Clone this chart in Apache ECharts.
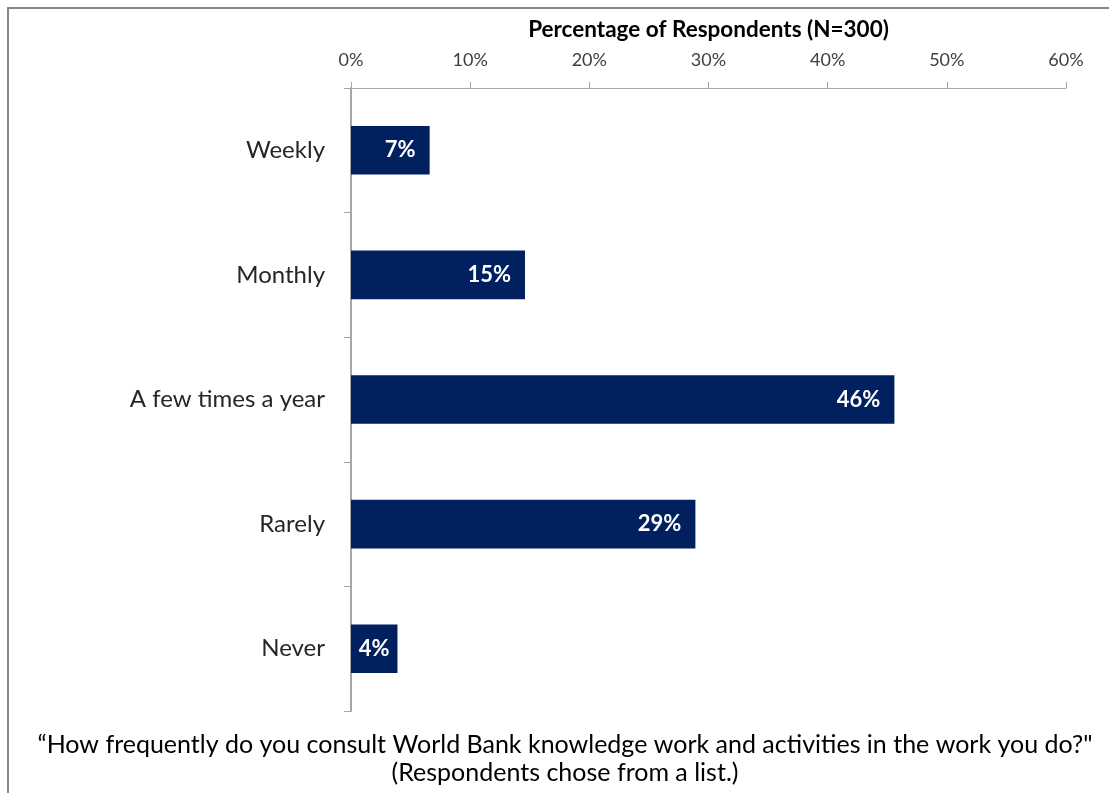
<!DOCTYPE html>
<html>
<head>
<meta charset="utf-8">
<script src="https://cdn.jsdelivr.net/npm/echarts@6/dist/echarts.min.js"></script>
<style>
html,body{margin:0;padding:0;background:#fff;}
#chart{width:1109px;height:793px;}
</style>
</head>
<body>
<div id="chart"></div>
<script>
const categories = ["Weekly", "Monthly", "A few times a year", "Rarely", "Never"];
const values = [6.6, 14.6, 45.6, 28.9, 3.9];
const axisTitle = "Percentage of Respondents (N=300)";
const footnoteLines = ["\u201cHow frequently do you consult World Bank knowledge work and activities in the work you do?\"", "(Respondents chose from a list.)"];

const FONT = "Lato";
const barData = values.map(v => v < 5 ? {value: v, label: {position: 'inside'}} : v);
const chart = echarts.init(document.getElementById('chart'), null, {renderer: 'canvas'});
chart.setOption({
  animation: false,
  backgroundColor: '#ffffff',
  grid: {left: 351, right: 43, top: 88, bottom: 82, containLabel: false},
  xAxis: {
    type: 'value', position: 'top', min: 0, max: 60, interval: 10,
    name: axisTitle, nameLocation: 'middle', nameGap: 47,
    nameTextStyle: {fontFamily: FONT, fontWeight: 'bold', fontSize: 22.5, color: '#000'},
    axisLine: {show: true, lineStyle: {color: '#a6a6a6', width: 1}},
    axisTick: {show: true, inside: false, length: 6, lineStyle: {color: '#a6a6a6'}},
    splitLine: {show: false},
    axisLabel: {formatter: v => v + '%', fontFamily: FONT, fontSize: 18, color: '#404040', margin: 19}
  },
  yAxis: {
    type: 'category', data: categories, inverse: true,
    axisLine: {show: true, lineStyle: {color: '#a6a6a6', width: 2}},
    axisTick: {show: true, inside: false, length: 7, lineStyle: {color: '#a6a6a6'}},
    axisLabel: {fontFamily: FONT, fontSize: 24, color: '#262626', margin: 26},
    splitLine: {show: false}
  },
  series: [{
    type: 'bar', data: barData, barCategoryGap: '61%',
    itemStyle: {color: '#002060'},
    label: {show: true, position: 'insideRight', distance: 14,
      formatter: p => Math.round(p.value) + '%',
      fontFamily: FONT, fontWeight: 'bold', fontSize: 22, color: '#ffffff'}
  }],
  graphic: [
    {type: 'line', shape: {x1: 7, y1: 8, x2: 1109, y2: 8}, style: {stroke: '#868686', lineWidth: 2}},
    {type: 'line', shape: {x1: 8, y1: 7, x2: 8, y2: 793}, style: {stroke: '#868686', lineWidth: 2}},
    {type: 'text', x: 565, y: 745, style: {text: footnoteLines[0], fontFamily: FONT, fontSize: 25, fill: '#000', align: 'center', verticalAlign: 'middle'}},
    {type: 'text', x: 565, y: 773, style: {text: footnoteLines[1], fontFamily: FONT, fontSize: 25, fill: '#000', align: 'center', verticalAlign: 'middle'}}
  ]
});
</script>
</body>
</html>
